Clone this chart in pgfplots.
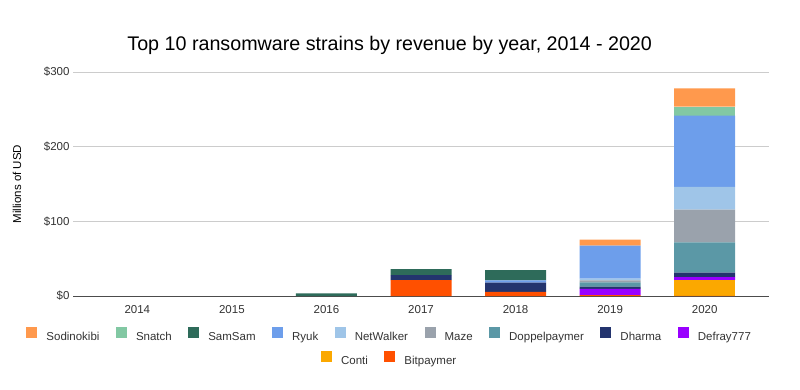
\documentclass[border=0pt]{standalone}
\usepackage{fontspec}
\setmainfont{Liberation Sans}
\usepackage{pgfplots}
\pgfplotsset{compat=1.18}
\definecolor{csod}{HTML}{FF994D}
\definecolor{csna}{HTML}{82C8A3}
\definecolor{csam}{HTML}{2E6B5A}
\definecolor{cryu}{HTML}{6D9EEB}
\definecolor{cnet}{HTML}{9FC5E8}
\definecolor{cmaz}{HTML}{9AA2AC}
\definecolor{cdop}{HTML}{5B98A6}
\definecolor{cdha}{HTML}{23346E}
\definecolor{cdef}{HTML}{9900FF}
\definecolor{ccon}{HTML}{FBA800}
\definecolor{cbit}{HTML}{FF5000}
\definecolor{txt}{HTML}{333333}
\begin{document}
\begin{tikzpicture}[x=1pt,y=1pt]
\useasboundingbox (0,0) rectangle (800,389);
\begin{axis}[
  at={(73pt,93pt)}, anchor=south west, scale only axis,
  width=696pt, height=224pt,
  ybar stacked, bar width=61pt,
  xmin=-0.68, xmax=6.68, ymin=0, ymax=300,
  xtick={0,1,2,3,4,5,6}, xticklabels={2014,2015,2016,2017,2018,2019,2020},
  ytick={0,100,200,300},
  /pgf/number format/assume math mode=true,
  yticklabel={\$\pgfmathprintnumber{\tick}},
  major tick length=0pt,
  axis x line*=bottom, axis y line*=left,
  y axis line style={draw=none},
  x axis line style={draw=black!70, line width=0.9pt},
  ymajorgrids, grid style={black!20, line width=0.7pt},
  tick label style={font=\fontsize{11.5}{13}\selectfont, text=txt},
  xticklabel style={yshift=-6pt},
  ylabel={Millions of USD},
  ylabel style={at={(axis description cs:-0.0805,0.5)}, anchor=center, font=\fontsize{11.5}{13}\selectfont, text=black},
  title={Top 10 ransomware strains by revenue by year, 2014 - 2020},
  title style={at={(axis description cs:0.455,1.094)}, anchor=center, font=\fontsize{19.7}{23}\selectfont, text=black},
  reverse legend,
  legend columns=-1,
  legend image code/.code={\draw[#1,draw=none] (0pt,-1.2pt) rectangle (11pt,9.8pt);},
  legend style={at={(0.455,-0.177)}, anchor=center, draw=none, fill=none,
    font=\fontsize{11.5}{13}\selectfont, text=txt,
    /tikz/every even column/.append style={column sep=14.5pt},
    /tikz/every odd column/.append style={column sep=7pt}},
]
\addplot[fill=cbit, draw=none, forget plot] coordinates {(0,0) (1,0) (2,0) (3,21.4) (4,5.4) (5,1.3) (6,0.3)};
\addplot[fill=ccon, draw=none, forget plot] coordinates {(0,0) (1,0) (2,0) (3,0) (4,0) (5,0) (6,21.1)};
\addplot[fill=cdef, draw=none] coordinates {(0,0) (1,0) (2,0) (3,0) (4,0) (5,8.1) (6,4.0)};
\addlegendentry{Defray777}
\addplot[fill=cdha, draw=none] coordinates {(0,0) (1,0) (2,0) (3,6.7) (4,12.4) (5,3.1) (6,5.8)};
\addlegendentry{Dharma}
\addplot[fill=cdop, draw=none] coordinates {(0,0) (1,0) (2,0) (3,0) (4,0) (5,5.8) (6,40.7)};
\addlegendentry{Doppelpaymer}
\addplot[fill=cmaz, draw=none] coordinates {(0,0) (1,0) (2,0) (3,0) (4,0) (5,2.7) (6,43.7)};
\addlegendentry{Maze}
\addplot[fill=cnet, draw=none] coordinates {(0,0) (1,0) (2,0) (3,0) (4,0) (5,2.2) (6,30.4)};
\addlegendentry{NetWalker}
\addplot[fill=cryu, draw=none] coordinates {(0,0) (1,0) (2,0) (3,0) (4,3.2) (5,44.2) (6,95.6)};
\addlegendentry{Ryuk}
\addplot[fill=csam, draw=none] coordinates {(0,0) (1,0) (2,3.6) (3,8.0) (4,13.8) (5,0) (6,0)};
\addlegendentry{SamSam}
\addplot[fill=csna, draw=none] coordinates {(0,0) (1,0) (2,0) (3,0) (4,0) (5,0) (6,11.9)};
\addlegendentry{Snatch}
\addplot[fill=csod, draw=none] coordinates {(0,0) (1,0) (2,0) (3,0) (4,0) (5,8.0) (6,24.5)};
\addlegendentry{Sodinokibi}
\end{axis}
\begin{axis}[
  at={(73pt,93pt)}, anchor=south west, scale only axis,
  width=696pt, height=224pt,
  hide axis, xmin=0, xmax=1, ymin=0, ymax=1,
  legend columns=-1,
  legend image code/.code={\draw[#1,draw=none] (0pt,-1.2pt) rectangle (11pt,9.8pt);},
  legend style={at={(0.455,-0.282)}, anchor=center, draw=none, fill=none,
    font=\fontsize{11.5}{13}\selectfont, text=txt,
    /tikz/every even column/.append style={column sep=14.5pt},
    /tikz/every odd column/.append style={column sep=7pt}},
]
\addlegendimage{fill=ccon, draw=none}
\addlegendentry{Conti}
\addlegendimage{fill=cbit, draw=none}
\addlegendentry{Bitpaymer}
\end{axis}
\end{tikzpicture}
\end{document}
